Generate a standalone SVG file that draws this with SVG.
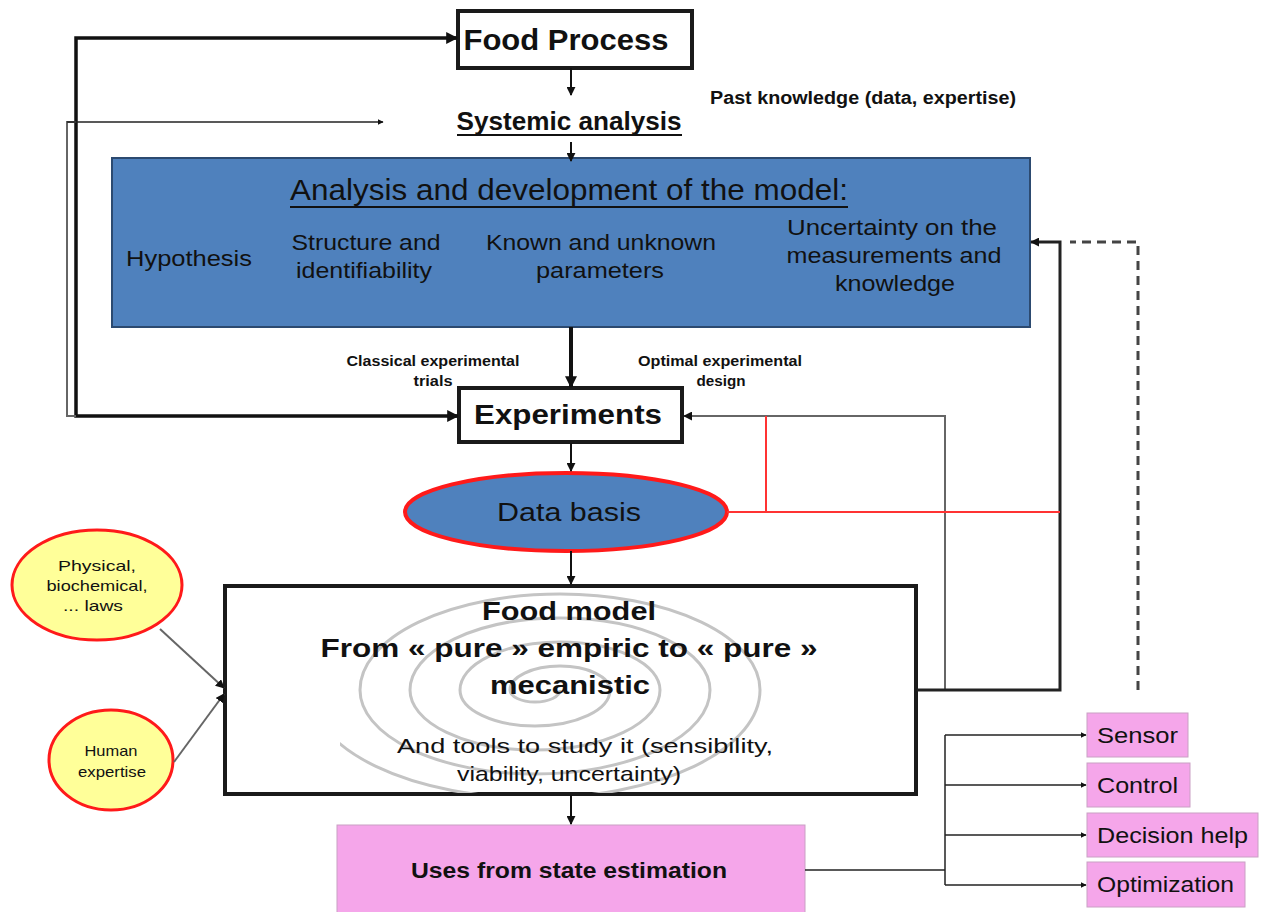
<svg xmlns="http://www.w3.org/2000/svg" width="1265" height="912" viewBox="0 0 1265 912">
<style>
text{font-family:"Liberation Sans",Arial,sans-serif;fill:#111}
.b{font-weight:bold}
.box{fill:#fff;stroke:#1a1a1a;stroke-width:4}
.blue{fill:#4F81BD;stroke:#2c4a70;stroke-width:2}
.pink{fill:#F5A6EA;stroke:#c9a0c4;stroke-width:1}
.yel{fill:#FFFF99;stroke:#FF1A1A;stroke-width:3}
.ln{fill:none;stroke:#111;stroke-width:2}
.lt{fill:none;stroke:#222;stroke-width:1.5}
.gr{fill:none;stroke:#666;stroke-width:2}
.red{fill:none;stroke:#FF3333;stroke-width:2}
.dash{fill:none;stroke:#444;stroke-width:3;stroke-dasharray:9,6}
.sp{fill:none;stroke:#c4c4c4;stroke-width:3}
</style>
<defs>
<marker id="ah" viewBox="0 0 10 10" refX="9" refY="5" markerWidth="6" markerHeight="6" markerUnits="userSpaceOnUse" orient="auto"><path d="M0,0L10,5L0,10z" fill="#111"/></marker>
<marker id="ahs" viewBox="0 0 10 10" refX="9" refY="5" markerWidth="9" markerHeight="9" markerUnits="userSpaceOnUse" orient="auto"><path d="M0,0L10,5L0,10z" fill="#111"/></marker>
<marker id="ahl" viewBox="0 0 10 10" refX="9" refY="5" markerWidth="12" markerHeight="12" markerUnits="userSpaceOnUse" orient="auto"><path d="M0,0L10,5L0,10z" fill="#111"/></marker>
<clipPath id="fmclip"><rect x="340" y="588" width="460" height="205"/></clipPath>
</defs>

<g id="food-process">
<rect class="box" x="458" y="11" width="234" height="57"/>
<text class="b" x="566" y="50" font-size="30" text-anchor="middle" textLength="205" lengthAdjust="spacingAndGlyphs">Food Process</text>
</g>

<g id="systemic-analysis">
<text class="b" x="569" y="130" font-size="25" text-anchor="middle" textLength="225" lengthAdjust="spacingAndGlyphs">Systemic analysis</text>
<line x1="457" y1="135" x2="682" y2="135" stroke="#111" stroke-width="2"/>
</g>

<g id="past-knowledge">
<text class="b" x="710" y="104" font-size="18" textLength="306" lengthAdjust="spacingAndGlyphs" fill="#222">Past knowledge (data, expertise)</text>
</g>

<g id="model-analysis">
<rect class="blue" x="112" y="158" width="918" height="169"/>
<text x="569" y="200" font-size="29" text-anchor="middle" textLength="558" lengthAdjust="spacingAndGlyphs">Analysis and development of the model:</text>
<line x1="290" y1="207" x2="848" y2="207" stroke="#111" stroke-width="2"/>
<text x="189" y="266" font-size="22" text-anchor="middle" textLength="126" lengthAdjust="spacingAndGlyphs">Hypothesis</text>
<text x="366" y="250" font-size="22" text-anchor="middle" textLength="149" lengthAdjust="spacingAndGlyphs">Structure and</text>
<text x="364" y="278" font-size="22" text-anchor="middle" textLength="136" lengthAdjust="spacingAndGlyphs">identifiability</text>
<text x="601" y="250" font-size="22" text-anchor="middle" textLength="230" lengthAdjust="spacingAndGlyphs">Known and unknown</text>
<text x="600" y="278" font-size="22" text-anchor="middle" textLength="128" lengthAdjust="spacingAndGlyphs">parameters</text>
<text x="892" y="235" font-size="22" text-anchor="middle" textLength="210" lengthAdjust="spacingAndGlyphs">Uncertainty on the</text>
<text x="894" y="263" font-size="22" text-anchor="middle" textLength="215" lengthAdjust="spacingAndGlyphs">measurements and</text>
<text x="895" y="291" font-size="22" text-anchor="middle" textLength="120" lengthAdjust="spacingAndGlyphs">knowledge</text>
</g>

<g id="label-classical">
<text class="b" x="433" y="366" font-size="14" text-anchor="middle" textLength="173" lengthAdjust="spacingAndGlyphs" fill="#333">Classical experimental</text>
<text class="b" x="433" y="386" font-size="14" text-anchor="middle" textLength="39" lengthAdjust="spacingAndGlyphs" fill="#333">trials</text>
</g>
<g id="label-optimal">
<text class="b" x="720" y="366" font-size="14" text-anchor="middle" textLength="164" lengthAdjust="spacingAndGlyphs" fill="#333">Optimal experimental</text>
<text class="b" x="721" y="386" font-size="14" text-anchor="middle" textLength="49" lengthAdjust="spacingAndGlyphs" fill="#333">design</text>
</g>

<g id="experiments">
<rect class="box" x="459" y="388" width="223" height="54"/>
<text class="b" x="568" y="424" font-size="28" text-anchor="middle" textLength="188" lengthAdjust="spacingAndGlyphs">Experiments</text>
</g>

<g id="data-basis">
<ellipse cx="566" cy="512" rx="161" ry="39" fill="#4F81BD" stroke="#FF1A1A" stroke-width="4"/>
<text x="569" y="521" font-size="26" text-anchor="middle" textLength="144" lengthAdjust="spacingAndGlyphs" fill="#0d1a2a">Data basis</text>
</g>

<g id="food-model">
<rect class="box" x="225" y="586" width="691" height="208"/>
<path class="sp" clip-path="url(#fmclip)" d="M560,690 a25,12 0 0 1 -50,0 a50,24 0 0 1 100,0 a75,36 0 0 1 -150,0 a100,48 0 0 1 200,0 a125,60 0 0 1 -250,0 a150,72 0 0 1 300,0 a175,84 0 0 1 -350,0 a200,96 0 0 1 400,0 a225,108 0 0 1 -450,0"/>
<text class="b" x="569" y="620" font-size="26" text-anchor="middle" textLength="174" lengthAdjust="spacingAndGlyphs">Food model</text>
<text class="b" x="569" y="657" font-size="26" text-anchor="middle" textLength="497" lengthAdjust="spacingAndGlyphs">From « pure » empiric to « pure »</text>
<text class="b" x="570" y="694" font-size="26" text-anchor="middle" textLength="160" lengthAdjust="spacingAndGlyphs">mecanistic</text>
<text x="585" y="753" font-size="21" text-anchor="middle" textLength="376" lengthAdjust="spacingAndGlyphs">And tools to study it (sensibility,</text>
<text x="569" y="781" font-size="21" text-anchor="middle" textLength="224" lengthAdjust="spacingAndGlyphs">viability, uncertainty)</text>
</g>

<g id="physical-laws">
<ellipse class="yel" cx="97" cy="585" rx="85" ry="55"/>
<text x="97" y="571" font-size="15" text-anchor="middle" textLength="78" lengthAdjust="spacingAndGlyphs" fill="#222">Physical,</text>
<text x="97" y="591" font-size="15" text-anchor="middle" textLength="101" lengthAdjust="spacingAndGlyphs" fill="#222">biochemical,</text>
<text x="93" y="611" font-size="15" text-anchor="middle" textLength="60" lengthAdjust="spacingAndGlyphs" fill="#222">... laws</text>
</g>

<g id="human-expertise">
<ellipse class="yel" cx="111" cy="760" rx="62" ry="50"/>
<text x="111" y="756" font-size="15" text-anchor="middle" textLength="53" lengthAdjust="spacingAndGlyphs" fill="#222">Human</text>
<text x="112" y="777" font-size="15" text-anchor="middle" textLength="68" lengthAdjust="spacingAndGlyphs" fill="#222">expertise</text>
</g>

<g id="uses">
<rect class="pink" x="337" y="825" width="468" height="95"/>
<text class="b" x="569" y="878" font-size="22" text-anchor="middle" textLength="316" lengthAdjust="spacingAndGlyphs">Uses from state estimation</text>
</g>

<g id="sensor"><rect class="pink" x="1087" y="713" width="101" height="44" stroke="none"/><text x="1097" y="743" font-size="22" textLength="81" lengthAdjust="spacingAndGlyphs">Sensor</text></g>
<g id="control"><rect class="pink" x="1087" y="763" width="103" height="44" stroke="none"/><text x="1097" y="793" font-size="22" textLength="81" lengthAdjust="spacingAndGlyphs">Control</text></g>
<g id="decision-help"><rect class="pink" x="1087" y="813" width="171" height="44" stroke="none"/><text x="1097" y="843" font-size="22" textLength="151" lengthAdjust="spacingAndGlyphs">Decision help</text></g>
<g id="optimization"><rect class="pink" x="1087" y="862" width="158" height="45" stroke="none"/><text x="1097" y="892" font-size="22" textLength="137" lengthAdjust="spacingAndGlyphs">Optimization</text></g>

<g id="connectors">
<line class="ln" x1="571" y1="68" x2="571" y2="95" marker-end="url(#ahs)"/>
<line class="ln" x1="571" y1="142" x2="571" y2="161" marker-end="url(#ahs)"/>
<line x1="571" y1="327" x2="571" y2="387" stroke="#111" stroke-width="4" marker-end="url(#ahl)"/>
<line class="ln" x1="571" y1="443" x2="571" y2="471" marker-end="url(#ahs)"/>
<line class="ln" x1="571" y1="551" x2="571" y2="584" marker-end="url(#ahs)"/>
<line class="ln" x1="571" y1="795" x2="571" y2="824" marker-end="url(#ahs)"/>
<polyline points="456,38 76,38 76,416 457,416" fill="none" stroke="#111" stroke-width="3.5"/>
<line x1="454" y1="38" x2="457" y2="38" stroke="#111" stroke-width="3" marker-end="url(#ahl)"/>
<line x1="454" y1="416" x2="458" y2="416" stroke="#111" stroke-width="3" marker-end="url(#ahl)"/>
<polyline points="76,416 67,416 67,122 76,122" fill="none" stroke="#666" stroke-width="2"/>
<line class="lt" x1="67" y1="122" x2="383" y2="122" marker-end="url(#ah)"/>
<polyline class="gr" points="945,690 945,416 684,416" marker-end="url(#ahs)"/>
<polyline points="917,690 1060,690 1060,242 1031,242" fill="none" stroke="#222" stroke-width="3" marker-end="url(#ahs)"/>
<polyline class="dash" points="1138,690 1138,242 1070,242"/>
<polyline class="red" points="727,512 1060,512"/>
<line class="red" x1="766" y1="416" x2="766" y2="512"/>
<line class="gr" x1="160" y1="629" x2="224" y2="688" stroke="#333" marker-end="url(#ahs)"/>
<line class="gr" x1="174" y1="762" x2="224" y2="694" stroke="#333" marker-end="url(#ahs)"/>
<line class="lt" x1="805" y1="870" x2="945" y2="870"/>
<line class="lt" x1="945" y1="735" x2="945" y2="885"/>
<line class="lt" x1="945" y1="735" x2="1086" y2="735" marker-end="url(#ah)"/>
<line class="lt" x1="945" y1="785" x2="1086" y2="785" marker-end="url(#ah)"/>
<line class="lt" x1="945" y1="835" x2="1086" y2="835" marker-end="url(#ah)"/>
<line class="lt" x1="945" y1="885" x2="1086" y2="885" marker-end="url(#ah)"/>
</g>
</svg>
